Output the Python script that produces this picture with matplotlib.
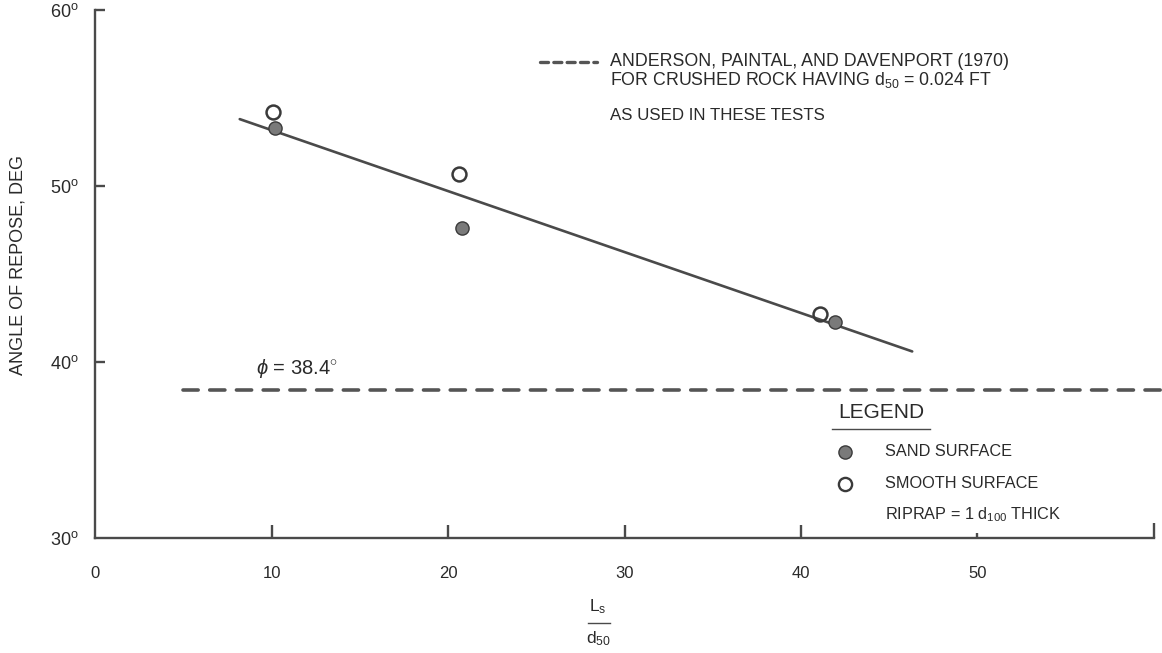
import matplotlib
matplotlib.use("Agg")
import matplotlib.pyplot as plt
from matplotlib.lines import Line2D

plt.rcParams['font.family'] = ['Liberation Sans', 'DejaVu Sans']
plt.rcParams['mathtext.fontset'] = 'custom'
plt.rcParams['mathtext.rm'] = 'Liberation Sans'
plt.rcParams['mathtext.it'] = 'Liberation Sans:italic'
plt.rcParams['mathtext.bf'] = 'Liberation Sans:bold'

# Measured angle of repose vs. relative slope length Ls/d50
sand_x = [10.2, 20.8, 41.9]
sand_y = [53.3, 47.6, 42.3]
smooth_x = [10.1, 20.6, 41.1]
smooth_y = [54.2, 50.7, 42.7]

# Fitted trend line (end points)
fit_x = [8.2, 46.3]
fit_y = [53.8, 40.6]

# Anderson, Paintal & Davenport (1970) angle for crushed rock
phi_value = 38.4
phi_x = [5.0, 60.5]

x_ticks = [0, 10, 20, 30, 40, 50, 60]
x_tick_labels = ['0', '10', '20', '30', '40', '50', '']
y_ticks = [30, 40, 50, 60]
y_tick_labels = [r'30$^{\mathrm{o}}$', r'40$^{\mathrm{o}}$', r'50$^{\mathrm{o}}$', r'60$^{\mathrm{o}}$']

INK = '#2a2a2a'
LINE = '#4a4a4a'

W, H = 1162, 653
fig = plt.figure(figsize=(W / 100, H / 100), dpi=100)
ax = fig.add_axes([95 / W, 1 - 538 / H, (1154 - 95) / W, (538 - 10) / H])
ax.set_xlim(0, 60)
ax.set_ylim(30, 60)

for s in ['top', 'right']:
    ax.spines[s].set_visible(False)
for s in ['left', 'bottom']:
    ax.spines[s].set_linewidth(1.7)
    ax.spines[s].set_color(LINE)

ax.set_xticks(x_ticks)
ax.set_xticklabels(x_tick_labels)
ax.set_yticks(y_ticks)
ax.set_yticklabels(y_tick_labels)
ax.tick_params(axis='x', direction='in', length=9.5, width=1.7, color=LINE,
               labelsize=12, labelcolor=INK, pad=20)
ax.tick_params(axis='y', direction='in', length=7.5, width=1.7, color=LINE,
               labelsize=13, labelcolor=INK, pad=12)
# the tick at 50 and the end tick at 60 differ in length
xt = ax.xaxis.get_major_ticks()
xt[0].tick1line.set_markersize(0)
xt[5].tick1line.set_markersize(3.5)
xt[6].tick1line.set_markersize(11)
ax.yaxis.get_major_ticks()[0].tick1line.set_markersize(0)

# phi reference line
ax.plot(phi_x, [phi_value, phi_value], color='#555555', lw=2.6,
        dashes=(4.2, 3.2), dash_capstyle='round', clip_on=False)
ax.text(9.1, phi_value + 0.55, r'$\phi$ = %.1f$^{\circ}$' % phi_value,
        fontsize=14.5, color=INK, ha='left', va='bottom')

# trend line and data
ax.plot(fit_x, fit_y, color=LINE, lw=1.9, solid_capstyle='round')
ax.plot(sand_x, sand_y, ls='none', marker='o', ms=9.5, mfc='#7a7a7a',
        mec='#3a3a3a', mew=1.0, zorder=5)
ax.plot(smooth_x, smooth_y, ls='none', marker='o', ms=10, mfc='none',
        mec='#3a3a3a', mew=1.8, zorder=6)

# axis labels
fig.text(18 / W, 1 - 265 / H, 'ANGLE OF REPOSE, DEG', rotation=90,
         ha='center', va='center', fontsize=13, color=INK)
fig.text(598 / W, 1 - 607 / H, r'L$_{\mathrm{s}}$', ha='center', va='center',
         fontsize=12.5, color=INK)
fig.add_artist(Line2D([588 / W, 610 / W], [1 - 623 / H, 1 - 623 / H],
                      color=LINE, lw=1.0))
fig.text(598 / W, 1 - 639 / H, r'd$_{50}$', ha='center', va='center',
         fontsize=12.5, color=INK)

# source note
fig.add_artist(Line2D([540 / W, 597 / W], [1 - 62 / H, 1 - 62 / H], color='#555555',
                      lw=2.4, dashes=(2.4, 1.6), dash_capstyle='round'))
fig.text(610 / W, 1 - 62 / H, 'ANDERSON, PAINTAL, AND DAVENPORT (1970)',
         ha='left', va='center', fontsize=12.8, color=INK)
fig.text(610 / W, 1 - 80 / H, r'FOR CRUSHED ROCK HAVING d$_{50}$ = 0.024 FT',
         ha='left', va='center', fontsize=12.8, color=INK)
fig.text(610 / W, 1 - 115 / H, 'AS USED IN THESE TESTS',
         ha='left', va='center', fontsize=12.2, color=INK)

# legend block
fig.text(881 / W, 1 - 412 / H, 'LEGEND', ha='center', va='center',
         fontsize=15, color=INK)
fig.add_artist(Line2D([832 / W, 930 / W], [1 - 429 / H, 1 - 429 / H],
                      color=LINE, lw=1.0))
fig.add_artist(Line2D([845 / W], [1 - 452 / H], ls='none', marker='o', ms=9.5,
                      mfc='#7a7a7a', mec='#3a3a3a', mew=1.0))
fig.text(885 / W, 1 - 452 / H, 'SAND SURFACE', ha='left', va='center',
         fontsize=11.7, color=INK)
fig.add_artist(Line2D([845 / W], [1 - 484 / H], ls='none', marker='o', ms=9.5,
                      mfc='none', mec='#3a3a3a', mew=1.7))
fig.text(885 / W, 1 - 484 / H, 'SMOOTH SURFACE', ha='left', va='center',
         fontsize=11.7, color=INK)
fig.text(885 / W, 1 - 515 / H, r'RIPRAP = 1 d$_{100}$ THICK', ha='left',
         va='center', fontsize=11.7, color=INK)

fig.savefig('out.png', dpi=100, facecolor='white')
